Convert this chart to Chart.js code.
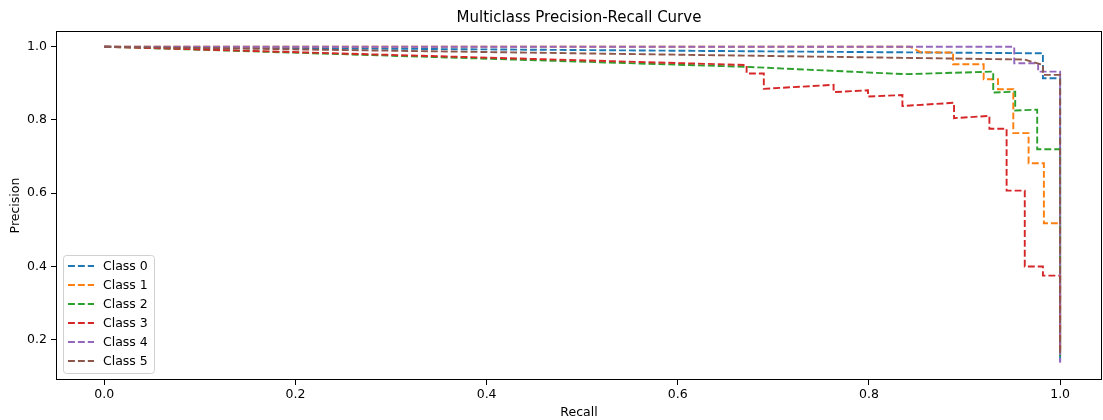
<!DOCTYPE html>
<html>
<head>
<meta charset="utf-8">
<script src="https://cdn.jsdelivr.net/npm/chart.js@4.4.1/dist/chart.umd.min.js"></script>
<style>
  html, body { margin: 0; padding: 0; background: #fff; }
  #wrap { width: 1103px; height: 420px; }
</style>
</head>
<body>
<div id="wrap"><canvas id="pr-chart" width="1103" height="420"></canvas></div>
<script>
// Values
const classLabels = ['Class 0', 'Class 1', 'Class 2', 'Class 3', 'Class 4', 'Class 5'];
const classColors = ['#1f77b4', '#ff7f0e', '#2ca02c', '#d62728', '#9467bd', '#8c564b'];

const class0Recall = [0, 0.982, 0.982, 1.0, 1.0];
const class0Precision = [1.0, 0.982, 0.914, 0.914, 0.14];

const class1Recall = [0, 0.843, 0.854, 0.888, 0.888, 0.920, 0.920, 0.935, 0.935, 0.951, 0.951, 0.967, 0.967, 0.983, 0.983, 1.0, 1.0];
const class1Precision = [1.0, 1.0, 0.985, 0.984, 0.952, 0.952, 0.911, 0.911, 0.884, 0.884, 0.764, 0.764, 0.682, 0.682, 0.518, 0.518, 0.16];

const class2Recall = [0, 0.672, 0.838, 0.930, 0.930, 0.953, 0.953, 0.976, 0.976, 1.0, 1.0];
const class2Precision = [1.0, 0.945, 0.925, 0.932, 0.875, 0.877, 0.826, 0.828, 0.720, 0.720, 0.155];

const class3Recall = [0, 0.672, 0.672, 0.690, 0.690, 0.763, 0.763, 0.799, 0.799, 0.835, 0.835, 0.889, 0.889, 0.926, 0.926, 0.944, 0.944, 0.963, 0.963, 0.982, 0.982, 1.0, 1.0];
const class3Precision = [1.0, 0.950, 0.927, 0.927, 0.885, 0.896, 0.876, 0.881, 0.864, 0.868, 0.838, 0.847, 0.805, 0.811, 0.776, 0.776, 0.607, 0.607, 0.400, 0.400, 0.375, 0.375, 0.17];

const class4Recall = [0, 0.952, 0.952, 0.977, 0.977, 1.0, 1.0];
const class4Precision = [1.0, 1.0, 0.955, 0.955, 0.932, 0.932, 0.137];

const class5Recall = [0, 0.963, 0.982, 0.982, 1.0, 1.0];
const class5Precision = [1.0, 0.965, 0.950, 0.923, 0.923, 0.16];

const recallSeries = [class0Recall, class1Recall, class2Recall, class3Recall, class4Recall, class5Recall];
const precisionSeries = [class0Precision, class1Precision, class2Precision, class3Precision, class4Precision, class5Precision];

const xTicks = [0.0, 0.2, 0.4, 0.6, 0.8, 1.0];
const yTicks = [0.2, 0.4, 0.6, 0.8, 1.0];

const FONT = 'DejaVu Sans';
const DASH = [6.9, 3];

const datasets = classLabels.map((label, i) => ({
  label: label,
  data: recallSeries[i].map((r, k) => ({ x: r, y: precisionSeries[i][k] })),
  borderColor: classColors[i],
  backgroundColor: classColors[i],
  borderWidth: 1.9,
  borderDash: DASH,
  pointRadius: 0,
  showLine: true,
  tension: 0,
  order: classLabels.length - i, // later classes on top, like matplotlib
}));

// Full box around the plot area (matplotlib spines)
const frameBox = {
  id: 'frameBox',
  afterDatasetsDraw(chart) {
    const { ctx, chartArea } = chart;
    ctx.save();
    ctx.strokeStyle = '#000';
    ctx.lineWidth = 1;
    ctx.strokeRect(chartArea.left + 0.5, chartArea.top + 0.5,
      chartArea.right - chartArea.left - 1, chartArea.bottom - chartArea.top - 1);
    ctx.restore();
  },
};

// Legend in lower left corner, inside the axes
const insideLegend = {
  id: 'insideLegend',
  afterDraw(chart) {
    const { ctx, chartArea } = chart;
    const left = chartArea.left + 7;
    const bottom = chartArea.bottom - 7;
    const rowH = 19;
    const boxW = 91;
    const boxH = rowH * classLabels.length + 4;
    const top = bottom - boxH;
    ctx.save();
    ctx.fillStyle = 'rgba(255,255,255,0.8)';
    ctx.strokeStyle = '#d0d0d0';
    ctx.lineWidth = 1;
    ctx.beginPath();
    ctx.roundRect(left + 0.5, top + 0.5, boxW, boxH, 3);
    ctx.fill();
    ctx.stroke();
    ctx.font = '12.5px "' + FONT + '"';
    ctx.textBaseline = 'middle';
    ctx.textAlign = 'left';
    classLabels.forEach((label, i) => {
      const y = top + 11 + i * rowH;
      ctx.strokeStyle = classColors[i];
      ctx.lineWidth = 1.9;
      ctx.setLineDash(DASH);
      ctx.beginPath();
      ctx.moveTo(left + 5, y);
      ctx.lineTo(left + 31, y);
      ctx.stroke();
      ctx.setLineDash([]);
      ctx.fillStyle = '#000';
      ctx.fillText(label, left + 40, y + 0.5);
    });
    ctx.restore();
  },
};

new Chart(document.getElementById('pr-chart'), {
  type: 'scatter',
  data: { datasets: datasets },
  options: {
    responsive: false,
    animation: false,
    layout: { padding: { left: 0, right: 1, top: 0, bottom: 0 } },
    plugins: {
      legend: { display: false },
      tooltip: { enabled: false },
      title: {
        display: true,
        fullSize: false,
        text: 'Multiclass Precision-Recall Curve',
        color: '#000',
        font: { family: FONT, size: 15, weight: 'normal' },
        padding: { top: 9, bottom: 4 },
      },
    },
    scales: {
      x: {
        type: 'linear',
        min: -0.0505,
        max: 1.0438,
        afterBuildTicks: (scale) => { scale.ticks = xTicks.map((v) => ({ value: v })); },
        afterFit: (scale) => { scale.height = 40; },
        ticks: {
          color: '#000',
          font: { family: FONT, size: 12.5 },
          padding: 2,
          maxRotation: 0,
          callback: (v) => Number(v).toFixed(1),
        },
        grid: { drawOnChartArea: false, drawTicks: true, tickLength: 5, color: '#000' },
        border: { display: false },
        title: {
          display: true,
          text: 'Recall',
          color: '#000',
          font: { family: FONT, size: 12.5 },
          padding: { top: 0, bottom: 0 },
        },
      },
      y: {
        type: 'linear',
        min: 0.090,
        max: 1.0429,
        afterBuildTicks: (scale) => { scale.ticks = yTicks.map((v) => ({ value: v })); },
        afterFit: (scale) => { scale.width = 56; },
        ticks: {
          color: '#000',
          font: { family: FONT, size: 12.5 },
          padding: 4,
          callback: (v) => Number(v).toFixed(1),
        },
        grid: { drawOnChartArea: false, drawTicks: true, tickLength: 5, color: '#000' },
        border: { display: false },
        title: {
          display: true,
          text: 'Precision',
          color: '#000',
          font: { family: FONT, size: 12.5 },
          padding: { top: 8, bottom: 0 },
        },
      },
    },
  },
  plugins: [frameBox, insideLegend],
});
</script>
</body>
</html>
